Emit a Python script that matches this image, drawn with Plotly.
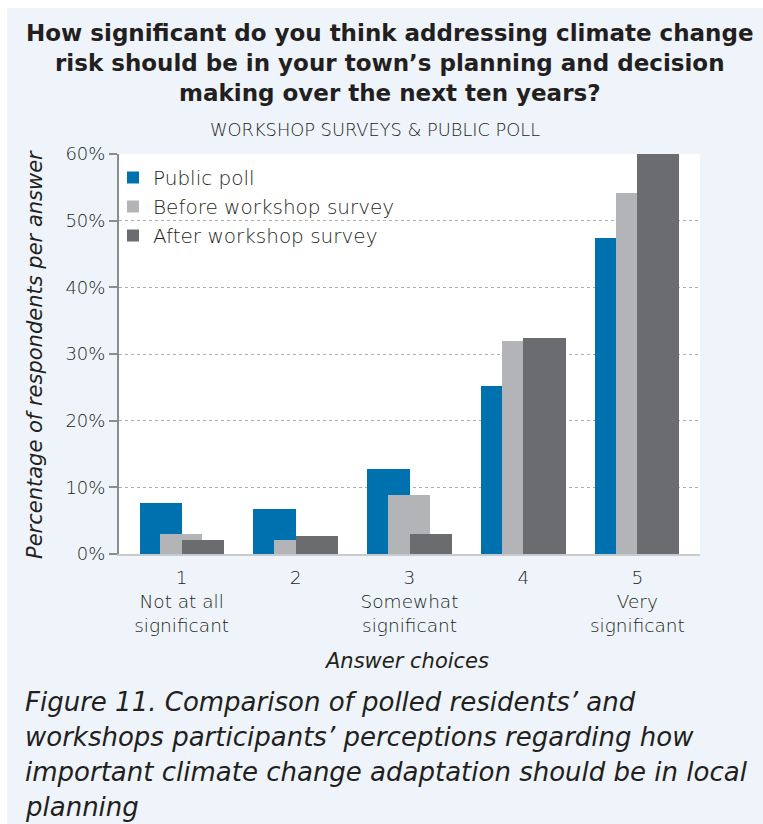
import plotly.graph_objects as go

# Answer scale and its labels
choices = [1, 2, 3, 4, 5]
choice_labels = [
    "1<br>Not at all<br>significant",
    "2",
    "3<br>Somewhat<br>significant",
    "4",
    "5<br>Very<br>significant",
]

# Share of respondents per answer
public_poll = [0.0765, 0.0675, 0.1275, 0.252, 0.474]
before_workshop = [0.030, 0.021, 0.0885, 0.3195, 0.541]
after_workshop = [0.021, 0.027, 0.030, 0.324, 0.600]

series_names = ["Public poll", "Before workshop survey", "After workshop survey"]

BLUE = "#0071AF"
LIGHT = "#B3B4B7"
DARK = "#6B6C70"
PANEL = "#EEF4F9"
INK = "#231F20"
FONT = "DejaVu Sans"

fig = go.Figure()

bar_w = 0.37
for name, vals, color, off in [
    (series_names[0], public_poll, BLUE, -0.37),
    (series_names[1], before_workshop, LIGHT, -0.19),
    (series_names[2], after_workshop, DARK, 0.0),
]:
    fig.add_trace(go.Bar(
        x=choices, y=vals, name=name,
        marker=dict(color=color, line=dict(width=0)),
        width=bar_w, offset=off,
    ))

# plot area: x 119..700 px, y 154..554 px in a 763x824 page
L, R, T, B = 119, 700, 154, 554
W, H = R - L, B - T


def px(x):
    return (x - L) / W


def py(y):
    return (B - y) / H


annotations = [
    dict(
        text=("How significant do you think addressing climate change<br>"
              "risk should be in your town’s planning and decision<br>"
              "making over the next ten years?"),
        x=px(390), y=py(63), xref="paper", yref="paper",
        xanchor="center", yanchor="middle", align="center", showarrow=False,
        font=dict(family=FONT, size=23, color=INK, weight="bold"),
    ),
    dict(
        text="WORKSHOP SURVEYS & PUBLIC POLL", x=px(375), y=py(130),
        xref="paper", yref="paper", xanchor="center", yanchor="middle",
        showarrow=False, font=dict(family=FONT, size=17.8, color=INK, weight=300),
    ),
    dict(
        text="<i>Percentage of respondents per answer</i>", x=px(35), y=py(355),
        xref="paper", yref="paper", xanchor="center", yanchor="middle",
        textangle=-90, showarrow=False,
        font=dict(family=FONT, size=21, color=INK, weight=300),
    ),
    dict(
        text="<i>Answer choices</i>", x=px(406), y=py(661),
        xref="paper", yref="paper", xanchor="center", yanchor="middle",
        showarrow=False, font=dict(family=FONT, size=21, color=INK, weight=300),
    ),
]

caption_lines = [
    "Figure 11. Comparison of polled residents’ and",
    "workshops participants’ perceptions regarding how",
    "important climate change adaptation should be in local",
    "planning",
]
for i, line in enumerate(caption_lines):
    annotations.append(dict(
        text=f"<i>{line}</i>", x=px(24), y=py(701.5 + 35.3 * i),
        xref="paper", yref="paper", xanchor="left", yanchor="middle",
        align="left", showarrow=False, borderpad=0,
        font=dict(family=FONT, size=26, color=INK, weight=300),
    ))

shapes = [
    # light panel behind the whole figure, leaving a thin white rim top/left
    dict(type="rect", xref="paper", yref="paper", layer="below",
         x0=px(7), x1=px(770), y0=py(830), y1=py(8),
         fillcolor=PANEL, line=dict(width=0)),
    # white plotting field
    dict(type="rect", xref="paper", yref="paper", layer="below",
         x0=0, x1=1, y0=0, y1=1, fillcolor="white", line=dict(width=0)),
]

fig.update_layout(
    width=763, height=824,
    margin=dict(l=L, r=763 - R, t=T, b=824 - B),
    paper_bgcolor="white", plot_bgcolor="white",
    barmode="overlay", bargap=0,
    font=dict(family=FONT, color=INK),
    showlegend=True,
    legend=dict(
        x=px(113), y=py(158), xanchor="left", yanchor="top",
        bgcolor="rgba(0,0,0,0)", borderwidth=0,
        font=dict(family=FONT, size=20, color=INK, weight=300),
        itemwidth=30, tracegroupgap=0,
    ),
    annotations=annotations,
    shapes=shapes,
)

fig.update_xaxes(
    range=[0.45, 5.55], tickmode="array", tickvals=choices, ticktext=choice_labels,
    showgrid=False, zeroline=False, showline=True, linecolor="#C9CACC", linewidth=2,
    ticks="", ticklabelstandoff=6,
    tickfont=dict(family=FONT, size=18.5, color=INK, weight=300),
    fixedrange=True,
)
fig.update_yaxes(
    range=[0, 0.6], dtick=0.1, tickformat=".0%",
    showgrid=True, gridcolor="#ADAEB0", gridwidth=1, griddash="dot",
    zeroline=False, showline=True, linecolor="#8C8C8E", linewidth=2,
    ticks="outside", ticklen=8, tickwidth=2, tickcolor="#8C8C8E",
    tickfont=dict(family=FONT, size=18, color=INK, weight=300),
    fixedrange=True,
)

fig.write_html("out.html")
